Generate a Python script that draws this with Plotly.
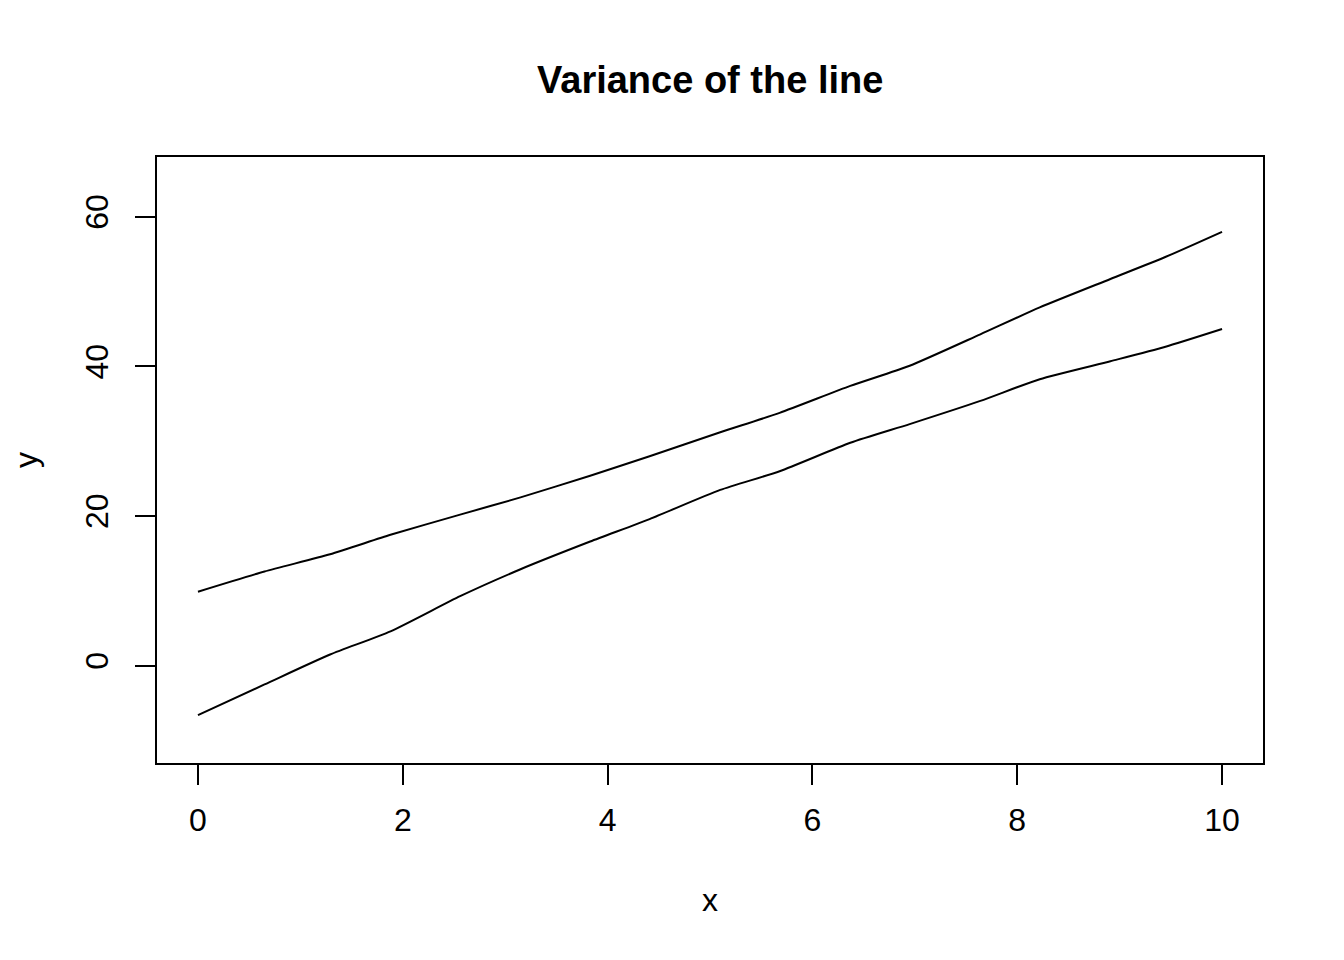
import plotly.graph_objects as go

# values
x_vals = [0, 0.65, 1.29, 1.88, 2.56, 3.15, 3.83, 4.41, 5.10, 5.68, 6.37, 6.95, 7.64, 8.22, 8.91, 9.44, 10]
upper = [9.9, 12.6, 14.9, 17.5, 20.2, 22.5, 25.4, 28.0, 31.2, 33.8, 37.4, 40.1, 44.3, 47.9, 51.7, 54.6, 58.0]
lower = [-6.6, -2.5, 1.5, 4.6, 9.3, 12.9, 16.6, 19.6, 23.5, 26.0, 29.8, 32.3, 35.4, 38.3, 40.7, 42.6, 45.0]

x_ticks = [0, 2, 4, 6, 8, 10]
y_ticks = [0, 20, 40, 60]

FONT = "Liberation Sans, Arial, Helvetica, sans-serif"

fig = go.Figure()
for ys in (upper, lower):
    fig.add_trace(go.Scatter(x=x_vals, y=ys, mode="lines",
                             line=dict(color="black", width=2, shape="spline", smoothing=0.6),
                             showlegend=False, hoverinfo="skip"))

fig.update_layout(
    width=1344, height=960,
    margin=dict(l=157, r=81, t=157, b=197),
    paper_bgcolor="white", plot_bgcolor="white",
    font=dict(family=FONT, size=32, color="black"),
    xaxis=dict(range=[-0.4, 10.4], tickvals=x_ticks, ticktext=[str(v) for v in x_ticks],
               showgrid=False, zeroline=False, showline=True, mirror=True,
               linecolor="black", linewidth=2, ticks="outside", ticklen=20,
               tickwidth=1.5, tickcolor="black", ticklabelstandoff=8),
    yaxis=dict(range=[-13, 68], tickvals=y_ticks, ticktext=[str(v) for v in y_ticks],
               showgrid=False, zeroline=False, showline=True, mirror=True,
               linecolor="black", linewidth=2, ticks="outside", ticklen=20,
               tickwidth=1.5, tickcolor="black", tickangle=-90, ticklabelstandoff=14),
    annotations=[
        dict(text="<b>Variance of the line</b>", xref="paper", yref="paper", x=0.5, y=1,
             xanchor="center", yanchor="middle", yshift=77, showarrow=False,
             font=dict(family=FONT, size=38, color="black")),
        dict(text="x", xref="paper", yref="paper", x=0.5, y=0,
             xanchor="center", yanchor="middle", yshift=-137, showarrow=False,
             font=dict(family=FONT, size=32, color="black")),
        dict(text="y", xref="paper", yref="paper", x=0, y=0.5,
             xanchor="center", yanchor="middle", xshift=-131, textangle=-90, showarrow=False,
             font=dict(family=FONT, size=32, color="black")),
    ],
)

fig.write_html("out.html", config={"displayModeBar": False},
               post_script="document.body.style.margin='0px';")
